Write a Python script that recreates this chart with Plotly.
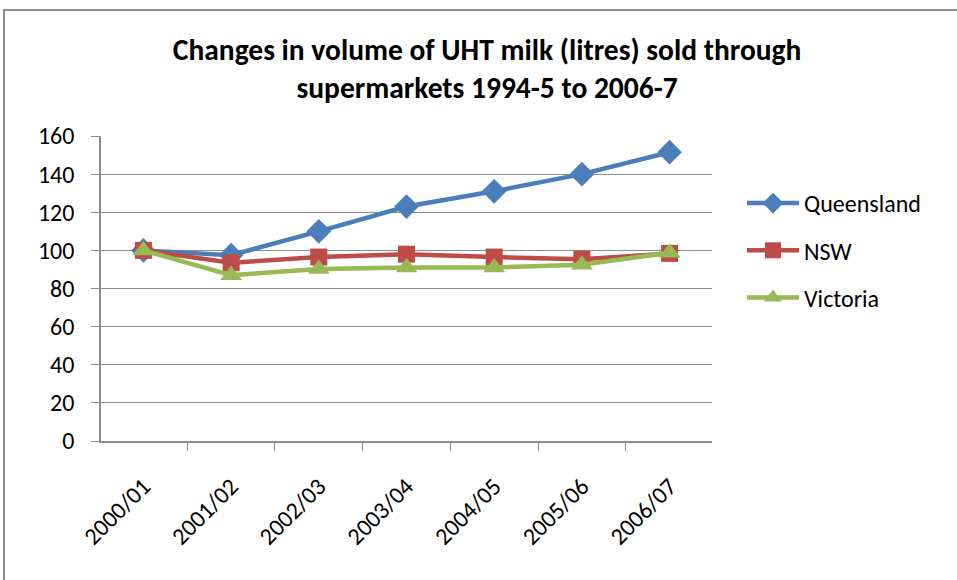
import plotly.graph_objects as go

years = ["2000/01", "2001/02", "2002/03", "2003/04", "2004/05", "2005/06", "2006/07"]
queensland = [100, 97.5, 110, 123, 131, 140, 151.5]
nsw = [100, 93.5, 96.5, 98, 96.5, 95.3, 98.4]
victoria = [100, 87, 90.2, 91, 91, 92.5, 98.8]

FONT = "Carlito, Calibri, 'Liberation Sans Narrow', 'Noto Sans', sans-serif"

fig = go.Figure()
series = [
    ("Queensland", queensland, "#4A7EBB", "diamond", 19),
    ("NSW", nsw, "#BE4B48", "square", 17),
    ("Victoria", victoria, "#98B954", "triangle-up", 19),
]
for name, vals, col, sym, sz in series:
    fig.add_trace(go.Scatter(
        x=years, y=vals, name=name, mode="lines+markers",
        line=dict(color=col, width=4.5),
        marker=dict(symbol=sym, size=sz, color=col),
        legendgroup=name,
    ))

L, T, PW, PH = 101, 136, 611, 305
fig.update_layout(
    width=957, height=580,
    margin=dict(l=L, r=957 - L - PW, t=T, b=580 - T - PH),
    paper_bgcolor="white", plot_bgcolor="white",
    font=dict(family=FONT, size=24, color="#000000"),
    title=dict(
        text="<b>Changes in volume of UHT milk (litres) sold through<br>supermarkets 1994-5 to 2006-7</b>",
        x=0.509, xanchor="center", y=0.897, yanchor="top",
        font=dict(family=FONT, size=29.5, color="#000000"),
    ),
    legend=dict(
        x=(742 - L) / PW, y=(T + PH - 181) / PH, xanchor="left", yanchor="top",
        font=dict(family=FONT, size=24, color="#000000"),
        traceorder="grouped", tracegroupgap=13,
        itemwidth=52, bgcolor="rgba(0,0,0,0)",
    ),
    showlegend=True,
    shapes=[dict(type="rect", xref="paper", yref="paper",
                 x0=(4 - L) / PW, x1=(962 - L) / PW,
                 y0=(T + PH - 590) / PH, y1=(T + PH - 10) / PH,
                 line=dict(color="#8C8C8C", width=2), layer="below")],
)
fig.update_xaxes(
    type="category", tickangle=-45, tickson="boundaries",
    ticks="outside", ticklen=8, tickcolor="#8C8C8C",
    showline=True, linecolor="#8C8C8C", linewidth=1.5,
    showgrid=False, tickfont=dict(size=24), ticklabelstandoff=20,
)
fig.update_yaxes(
    range=[0, 160], dtick=20, ticks="outside", ticklen=8, tickcolor="#8C8C8C",
    showline=True, linecolor="#8C8C8C", linewidth=1.5,
    showgrid=True, gridcolor="#8C8C8C", gridwidth=1,
    zeroline=False, tickfont=dict(size=24), ticklabelstandoff=12,
)

fig.write_html("out.html", config={"displayModeBar": False},
               post_script="document.body.style.margin='0px';")
